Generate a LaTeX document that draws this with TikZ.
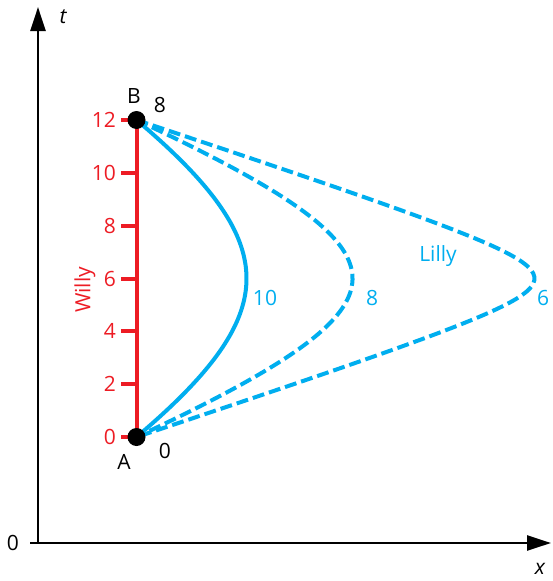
\documentclass[tikz,border=0pt]{standalone}
\usepackage{fontspec}
\setmainfont{Open Sans}
\usetikzlibrary{arrows.meta}
\definecolor{wred}{HTML}{ED1C24}
\definecolor{lblue}{HTML}{00AEEF}
\tikzset{
  axis/.style={line width=2.5pt, -{Triangle[length=24pt,width=15pt]}},
  tickline/.style={wred, line width=4pt},
  redlbl/.style={text=wred, font=\fontsize{21}{25}\selectfont, anchor=east, inner sep=0pt},
  bluelbl/.style={text=lblue, font=\fontsize{21}{25}\selectfont, inner sep=0pt},
  blklbl/.style={text=black, font=\fontsize{21}{25}\selectfont, inner sep=0pt},
  worldline/.style={lblue, line width=4pt},
  dashedline/.style={lblue, line width=4pt, dash pattern=on 12pt off 5pt},
  eventdot/.style={circle, fill=black, minimum size=18pt, inner sep=0pt},
}
\begin{document}
\begin{tikzpicture}[x=1pt, y=-1pt]
\useasboundingbox (0,0) rectangle (552,581);
% axes
\coordinate (O) at (38,543);
\coordinate (xs) at (30,543);
\coordinate (xe) at (551,543);
\coordinate (ye) at (38,7);
\draw[axis] (xs) -- (xe);
\draw[axis] (O) -- (ye);
\node[blklbl] (zero) at (13,543) {0};
\node[blklbl, font=\fontsize{21}{25}\selectfont\itshape] (tlbl) at (63,17) {t};
\node[blklbl, font=\fontsize{21}{25}\selectfont\itshape] (xlbl) at (540,569) {x};
% Willy
\coordinate (A) at (136.5,437);
\coordinate (B) at (136.5,120);
\draw[tickline] (A) -- (B);
\foreach \v in {0,2,...,12}{
  \draw[tickline] (121,{437-\v*26.4167}) -- (136.5,{437-\v*26.4167});
  \node[redlbl] (t\v) at (116,{437-\v*26.4167}) {\v};
}
\node[text=wred, font=\fontsize{21}{25}\selectfont, rotate=90, inner sep=0pt] (willy) at (85,290) {Willy};
% Lilly curves (hyperbola-like)
\draw[dashedline] plot[domain=-1:1, samples=100, smooth]
  ({136.5 + 398*(sqrt(0.04+1)-sqrt(0.04+\x*\x))/(sqrt(0.04+1)-0.2)}, {278.5+158.5*\x});
\draw[dashedline] plot[domain=-1:1, samples=100, smooth]
  ({136.5 + 216*(sqrt(0.49+1)-sqrt(0.49+\x*\x))/(sqrt(0.49+1)-0.7)}, {278.5+158.5*\x});
\draw[worldline] plot[domain=-1:1, samples=100, smooth]
  ({136.5 + 110*(sqrt(1+1)-sqrt(1+\x*\x))/(sqrt(1+1)-1)}, {278.5+158.5*\x});
% events
\node[eventdot] (dA) at (A) {};
\node[eventdot] (dB) at (B) {};
\node[blklbl] (Alab) at (124,462) {A};
\node[blklbl] (Blab) at (134,96) {B};
\node[blklbl] (A0) at (165,451) {0};
\node[blklbl] (B8) at (160,105) {8};
% Lilly labels
\node[bluelbl] (l10) at (265,298) {10};
\node[bluelbl] (l8) at (372,298) {8};
\node[bluelbl] (l6) at (543,298) {6};
\node[bluelbl] (lilly) at (438,256) {Lilly};
\end{tikzpicture}
\end{document}
